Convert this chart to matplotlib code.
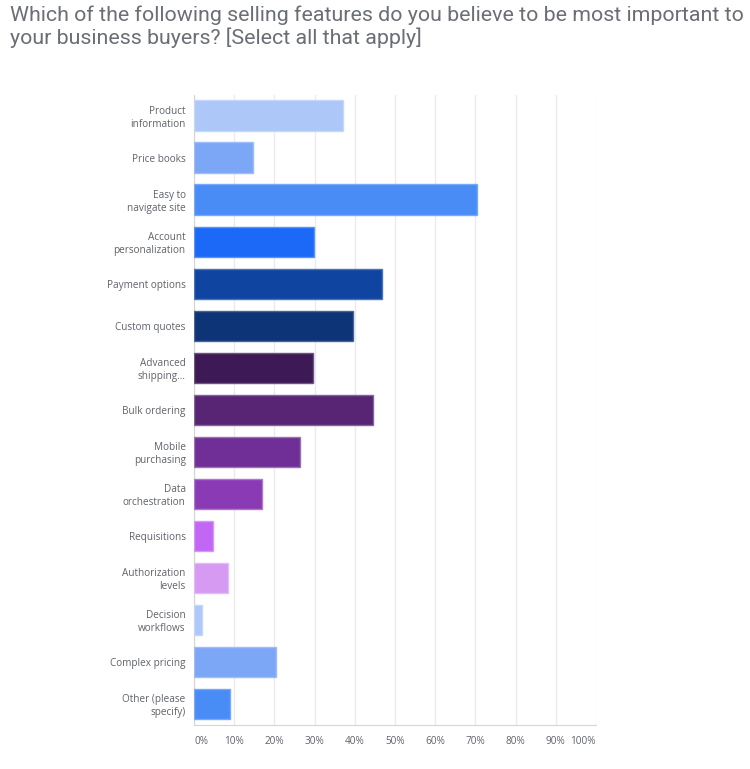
import matplotlib
matplotlib.use('Agg')
from matplotlib import pyplot as plt
import numpy as np

features = ['Product\ninformation', 'Price books', 'Easy to\nnavigate site',
            'Account\npersonalization', 'Payment options', 'Custom quotes',
            'Advanced\nshipping...', 'Bulk ordering', 'Mobile\npurchasing',
            'Data\norchestration', 'Requisitions', 'Authorization\nlevels',
            'Decision\nworkflows', 'Complex pricing', 'Other (please\nspecify)']
percent = [37.0, 14.6, 70.5, 29.9, 46.8, 39.6, 29.5, 44.4, 26.4, 17.0,
           4.6, 8.4, 2.1, 20.3, 9.0]
colors = ['#adc7f8', '#7ca6f6', '#4a8cf6', '#1b69f6', '#0f45a0', '#0c3476',
          '#3d1a55', '#572574', '#702f96', '#8a3ab5', '#c266f5', '#d69af3',
          '#adc7f8', '#7ca6f6', '#4a8cf6']
edges = ['#c4d7fa', '#9dbcf8', '#77a9f8', '#5a92f8', '#4a74b8', '#4a6494',
         '#6e557f', '#83659a', '#9a72b4', '#ab7acb', '#d698f8', '#e4baf6',
         '#c4d7fa', '#9dbcf8', '#77a9f8']
xticks = [0, 10, 20, 30, 40, 50, 60, 70, 80, 90, 100]

plt.rcParams['font.family'] = ['Open Sans', 'DejaVu Sans']

fig = plt.figure(figsize=(7.5, 7.69), dpi=100)
ax = fig.add_axes([0.2587, 0.0572, 0.536, 0.8193])

y = np.arange(len(features))
ax.barh(y, percent, height=0.72, color=colors, edgecolor=edges, linewidth=1, zorder=3)
ax.set_ylim(len(features) - 0.5, -0.49)
ax.set_xlim(0, 100)
ax.set_yticks(y)
ax.set_yticklabels(features, fontsize=7.2, color='#5f636b', linespacing=1.25)
ax.set_xticks(xticks)
ax.set_xticklabels([f'{t}%' for t in xticks], fontsize=7.2, color='#5f636b')
labels = ax.get_xticklabels()
labels[0].set_horizontalalignment('left')
labels[-1].set_horizontalalignment('right')
ax.tick_params(axis='both', length=0)
ax.tick_params(axis='y', pad=6)
ax.tick_params(axis='x', pad=8)
ax.grid(axis='x', color='#ebebef', linewidth=1, zorder=0)
for s in ['top', 'right']:
    ax.spines[s].set_visible(False)
ax.spines['left'].set_color('#d5d5d8')
ax.spines['bottom'].set_color('#d5d5d8')

fig.text(0.013, 0.993, 'Which of the following selling features do you believe to be most important to\n'
         'your business buyers? [Select all that apply]',
         ha='left', va='top', fontsize=15.4, color='#6a6e75', linespacing=1.15,
         family=['Roboto', 'DejaVu Sans'])

plt.savefig('out.png', dpi=100)
